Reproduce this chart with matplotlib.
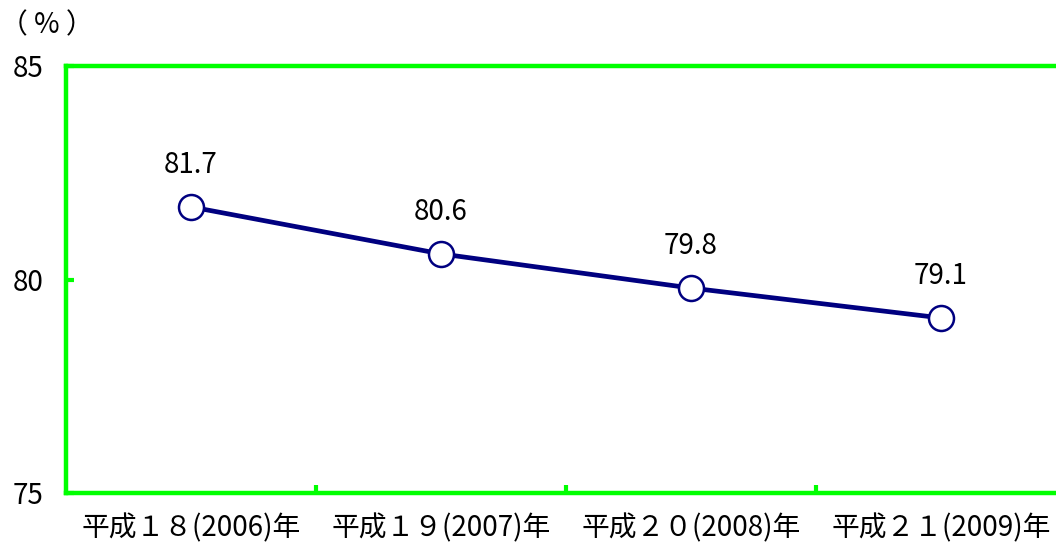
import matplotlib.pyplot as plt

plt.rcParams['font.family'] = ['Noto Sans CJK JP', 'DejaVu Sans']

categories = ["平成１８(2006)年", "平成１９(2007)年", "平成２０(2008)年", "平成２１(2009)年"]
values = [81.7, 80.6, 79.8, 79.1]
y_ticks = [75, 80, 85]

green = "#00ff00"
navy = "#000080"

fig = plt.figure(figsize=(10.56, 5.47), dpi=100)
ax = fig.add_axes([66 / 1056, 54 / 547, 1000 / 1056, 427 / 547])

x = list(range(len(categories)))
ax.plot(x, values, color=navy, linewidth=3.4, marker="o", markersize=18,
        markerfacecolor="white", markeredgecolor=navy, markeredgewidth=1.8, zorder=3)

for xi, v in zip(x, values):
    ax.annotate(f"{v:.1f}", (xi, v), xytext=(0, 30), textcoords="offset points",
                ha="center", va="center", fontsize=20)

ax.set_xlim(-0.5, len(categories) - 0.5)
ax.set_ylim(75, 85)
ax.set_yticks(y_ticks)
ax.set_yticklabels([str(t) for t in y_ticks], fontsize=20)
ax.set_xticks(x)
ax.set_xticklabels(categories, fontsize=20)
ax.set_xticks([0.5, 1.5, 2.5], minor=True)

ax.tick_params(axis="x", which="major", length=0, pad=15)
ax.tick_params(axis="x", which="minor", direction="in", length=6, width=3, color=green)
ax.tick_params(axis="y", direction="in", length=6, width=3, color=green, pad=16)

for side in ["left", "bottom", "top"]:
    ax.spines[side].set_color(green)
    ax.spines[side].set_linewidth(3.2)
ax.spines["right"].set_visible(False)

# unit label above the y axis
fig.text(0.0, 1 - 25 / 547, "（ % ）", fontsize=20, ha="left", va="center")

fig.savefig("out.png", dpi=100)
